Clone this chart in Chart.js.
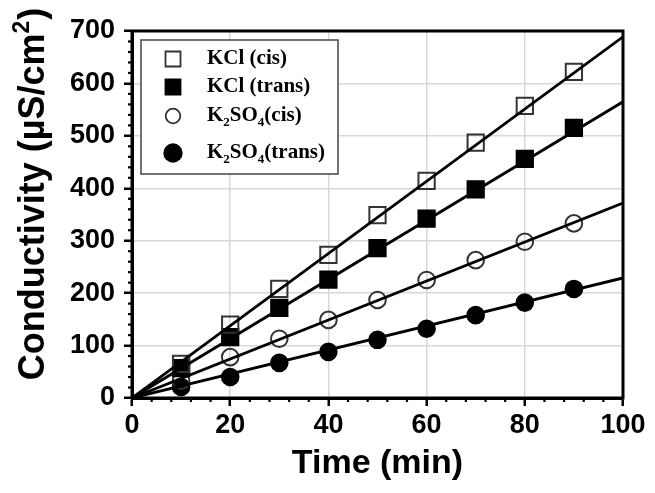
<!DOCTYPE html>
<html>
<head>
<meta charset="utf-8">
<script src="https://cdn.jsdelivr.net/npm/chart.js@4.4.1/dist/chart.umd.min.js"></script>
<style>
  html, body { margin: 0; padding: 0; background: #fff; }
  #wrap { width: 655px; height: 493px; }
</style>
</head>
<body>
<div id="wrap"><canvas id="chart"></canvas></div>
<script>
// sampling times (min)
const times = [10, 20, 30, 40, 50, 60, 70, 80, 90];

// conductivity readings (uS/cm2)
const kclCis = [65, 140, 208, 273, 349, 414, 487, 557, 622];
const kclTrans = [57, 116, 172, 226, 286, 342, 398, 456, 515];
const k2so4Cis = [33, 78, 113, 149, 187, 225, 263, 298, 333];
const k2so4Trans = [21, 40, 67, 88, 111, 132, 158, 182, 208];

// straight fitted lines: value at 0 min and at 100 min
const fitX = [0, 100];
const kclCisFit = [0, 689];
const kclTransFit = [0, 565];
const k2so4CisFit = [0, 372];
const k2so4TransFit = [0, 229];

const xTickValues = [0, 20, 40, 60, 80, 100];
const yTickValues = [0, 100, 200, 300, 400, 500, 600, 700];

const toPoints = (xs, ys) => xs.map((x, i) => ({ x: x, y: ys[i] }));

const seriesStyle = [
    { label: 'KCl (cis)', data: kclCis, fit: kclCisFit, style: 'rect', filled: false },
    { label: 'KCl (trans)', data: kclTrans, fit: kclTransFit, style: 'rect', filled: true },
    { label: 'K2SO4(cis)', data: k2so4Cis, fit: k2so4CisFit, style: 'circle', filled: false },
    { label: 'K2SO4(trans)', data: k2so4Trans, fit: k2so4TransFit, style: 'circle', filled: true }
];

const datasets = [];
seriesStyle.forEach(s => {
    datasets.push({
        label: s.label,
        data: toPoints(times, s.data),
        showLine: false,
        pointStyle: s.style,
        pointRadius: s.style === 'rect' ? 11.5 : 8.3,
        pointBorderWidth: 2,
        pointBorderColor: s.filled ? '#000' : '#333',
        pointBackgroundColor: s.filled ? '#000' : 'rgba(255,255,255,0)',
        order: 2
    });
    datasets.push({
        label: s.label + ' fit',
        data: toPoints(fitX, s.fit),
        showLine: true,
        borderColor: '#000',
        borderWidth: 2.8,
        pointRadius: 0,
        fill: false,
        order: 1
    });
});

// frame, minor ticks, y title and the legend box
const decorations = {
    id: 'decorations',
    afterDraw(chart) {
        const ctx = chart.ctx;
        const area = chart.chartArea;
        const xs = chart.scales.x;
        const ys = chart.scales.y;
        ctx.save();

        // minor ticks
        ctx.strokeStyle = '#000';
        ctx.lineWidth = 2.2;
        for (let v = 4; v < 100; v += 4) {
            if (v % 20 === 0) continue;
            const px = xs.getPixelForValue(v);
            ctx.beginPath();
            ctx.moveTo(px, area.bottom);
            ctx.lineTo(px, area.bottom + 4);
            ctx.stroke();
        }
        for (let v = 20; v < 700; v += 20) {
            if (v % 100 === 0) continue;
            const py = ys.getPixelForValue(v);
            ctx.beginPath();
            ctx.moveTo(area.left, py);
            ctx.lineTo(area.left - 4, py);
            ctx.stroke();
        }

        // box round the plot
        ctx.lineWidth = 3;
        ctx.strokeRect(area.left, area.top, area.right - area.left, area.bottom - area.top);

        // y axis title with a raised 2
        ctx.fillStyle = '#000';
        ctx.translate(34, 194);
        ctx.rotate(-Math.PI / 2);
        ctx.textBaseline = 'middle';
        const big = 'bold 36px "Liberation Sans", Arial, sans-serif';
        const small = 'bold 23px "Liberation Sans", Arial, sans-serif';
        const p1 = 'Conductivity (\u00b5S/cm';
        ctx.font = big;
        const w1 = ctx.measureText(p1).width;
        const w3 = ctx.measureText(')').width;
        ctx.font = small;
        const w2 = ctx.measureText('2').width;
        let x0 = -(w1 + w2 + w3 + 1) / 2;
        ctx.font = big;
        ctx.textAlign = 'left';
        ctx.fillText(p1, x0, 0);
        ctx.font = small;
        ctx.fillText('2', x0 + w1, -11);
        ctx.font = big;
        ctx.fillText(')', x0 + w1 + w2 + 1, 0);
        ctx.setTransform(1, 0, 0, 1, 0, 0);

        // legend
        const lx = area.left + 9;
        const ly = area.top + 9;
        ctx.fillStyle = '#fff';
        ctx.fillRect(lx, ly, 197, 134);
        ctx.lineWidth = 1.5;
        ctx.strokeStyle = '#444';
        ctx.strokeRect(lx, ly, 197, 134);

        const rows = [19, 47, 76, 113];
        const mx = lx + 32;
        const tx = lx + 66;
        const serif = sz => 'bold ' + sz + 'px "Liberation Serif", "Times New Roman", serif';
        seriesStyle.forEach((s, i) => {
            const cy = ly + rows[i];
            ctx.lineWidth = 1.8;
            ctx.strokeStyle = s.filled ? '#000' : '#333';
            ctx.fillStyle = s.filled ? '#000' : '#fff';
            ctx.beginPath();
            if (s.style === 'rect') {
                ctx.rect(mx - 7.5, cy - 7.5, 15, 15);
            } else {
                ctx.arc(mx, cy, s.filled ? 8.8 : 7.3, 0, Math.PI * 2);
            }
            ctx.fill();
            ctx.stroke();

            ctx.fillStyle = '#000';
            ctx.textBaseline = 'middle';
            ctx.textAlign = 'left';
            if (s.style === 'rect') {
                ctx.font = serif(21);
                ctx.fillText(s.label, tx, cy);
            } else {
                // K2SO4 with subscripts
                const rest = s.label.replace('K2SO4', '');
                let x = tx;
                const parts = [['K', 0, 21], ['2', 7, 13], ['SO', 0, 21], ['4', 7, 13], [rest, 0, 21]];
                parts.forEach(p => {
                    ctx.font = serif(p[2]);
                    ctx.fillText(p[0], x, cy + p[1]);
                    x += ctx.measureText(p[0]).width;
                });
            }
        });
        ctx.restore();
    }
};

const tickFont = { family: '"Liberation Sans", Arial, sans-serif', size: 27, weight: 'bold' };

new Chart(document.getElementById('chart'), {
    type: 'scatter',
    data: { datasets: datasets },
    options: {
        responsive: true,
        maintainAspectRatio: false,
        animation: false,
        layout: { padding: { top: 31, right: 32, left: 0, bottom: 0 } },
        plugins: {
            legend: { display: false },
            tooltip: { enabled: false }
        },
        scales: {
            x: {
                type: 'linear',
                min: 0,
                max: 100,
                afterBuildTicks: axis => { axis.ticks = xTickValues.map(v => ({ value: v })); },
                afterFit: axis => { axis.height = 95; },
                ticks: { color: '#000', font: tickFont, padding: 3, maxRotation: 0 },
                grid: {
                    color: ctx => (ctx.tick && (ctx.tick.value === 0 || ctx.tick.value === 100)) ? 'rgba(0,0,0,0)' : '#d8d8d8',
                    lineWidth: 1.5,
                    tickColor: '#000',
                    tickWidth: 2.5,
                    tickLength: 8
                },
                border: { display: true, color: '#000', width: 3 },
                title: {
                    display: true,
                    text: 'Time (min)',
                    color: '#000',
                    font: { family: '"Liberation Sans", Arial, sans-serif', size: 34, weight: 'bold' },
                    padding: { top: 0, bottom: 9 }
                }
            },
            y: {
                type: 'linear',
                min: 0,
                max: 700,
                afterBuildTicks: axis => { axis.ticks = yTickValues.map(v => ({ value: v })); },
                afterFit: axis => { axis.width = 132; },
                ticks: { color: '#000', font: tickFont, padding: 9 },
                grid: {
                    color: ctx => (ctx.tick && (ctx.tick.value === 0 || ctx.tick.value === 700)) ? 'rgba(0,0,0,0)' : '#d8d8d8',
                    lineWidth: 1.5,
                    tickColor: '#000',
                    tickWidth: 2.5,
                    tickLength: 8
                },
                border: { display: true, color: '#000', width: 3 }
            }
        }
    },
    plugins: [decorations]
});
</script>
</body>
</html>
